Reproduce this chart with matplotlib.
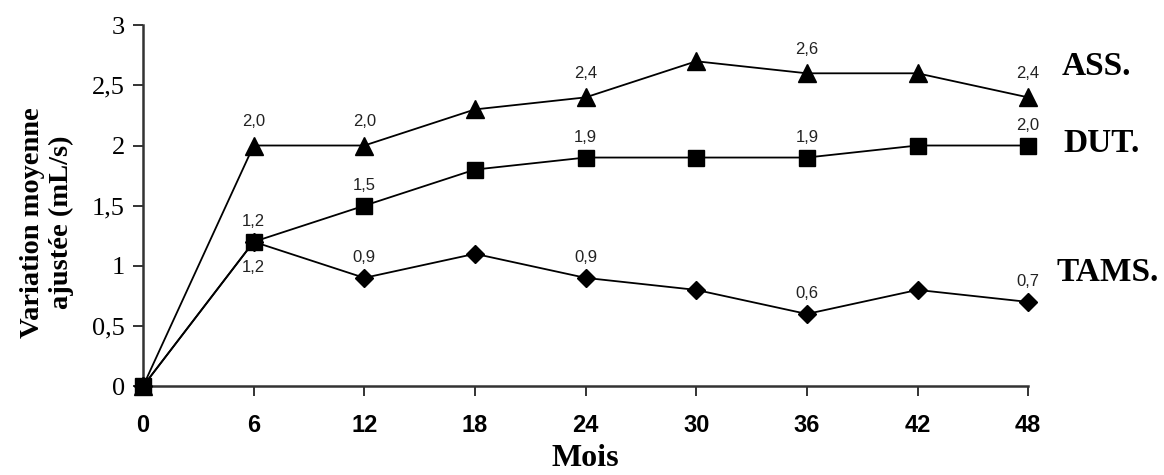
import matplotlib.pyplot as plt

# données
mois = [0, 6, 12, 18, 24, 30, 36, 42, 48]
ass = [0, 2.0, 2.0, 2.3, 2.4, 2.7, 2.6, 2.6, 2.4]
dut = [0, 1.2, 1.5, 1.8, 1.9, 1.9, 1.9, 2.0, 2.0]
tams = [0, 1.2, 0.9, 1.1, 0.9, 0.8, 0.6, 0.8, 0.7]

# mois où la valeur est affichée
etiq_ass = [6, 12, 24, 36, 48]
etiq_dut = [6, 12, 24, 36, 48]
etiq_tams = [12, 24, 36, 48]

yticks = [0, 0.5, 1, 1.5, 2, 2.5, 3]
ytick_labels = ["0", "0,5", "1", "1,5", "2", "2,5", "3"]

serie_noms = ["ASS.", "DUT.", "TAMS."]


def fmt(v):
    return f"{v:.1f}".replace(".", ",")


SANS = ["Liberation Sans", "DejaVu Sans"]
SERIF = ["Liberation Serif", "DejaVu Serif"]

fig = plt.figure(figsize=(11.64, 4.75), dpi=100)
ax = fig.add_axes([0.1229, 0.187, 0.7604, 0.760])

ax.plot(mois, ass, color="black", lw=1.3, marker="^", ms=13, clip_on=False, zorder=3)
ax.plot(mois, tams, color="black", lw=1.3, marker="D", ms=9.5, clip_on=False, zorder=3)
ax.plot(mois, dut, color="black", lw=1.3, marker="s", ms=12, clip_on=False, zorder=4)

ann = dict(textcoords="offset points", ha="center", fontsize=12, family=SANS, color="#222222")
for x, y in zip(mois, ass):
    if x in etiq_ass:
        ax.annotate(fmt(y), (x, y), xytext=(0, 12), va="bottom", **ann)
for x, y in zip(mois, dut):
    if x in etiq_dut:
        ax.annotate(fmt(y), (x, y), xytext=(0, 9), va="bottom", **ann)
for x, y in zip(mois, tams):
    if x in etiq_tams:
        ax.annotate(fmt(y), (x, y), xytext=(0, 9), va="bottom", **ann)
    elif x == 6:
        ax.annotate(fmt(y), (x, y), xytext=(0, -13), va="top", **ann)

# noms des séries à droite (position en coordonnées axe x / données y)
noms_pos = [(1.038, 2.59), (1.040, 1.95), (1.032, 0.87)]
for nom, (xp, yp) in zip(serie_noms, noms_pos):
    ax.text(xp, yp, nom, transform=ax.get_yaxis_transform(), ha="left", va="baseline",
            fontsize=24, fontweight="bold", family=SERIF)

ax.set_xlim(0, 48)
ax.set_ylim(0, 3)
ax.set_xticks(mois)
ax.set_xticklabels([str(m) for m in mois], fontsize=17, fontweight="bold", family=SANS)
ax.set_yticks(yticks)
ax.set_yticklabels(ytick_labels, fontsize=19, family=SERIF)
ax.tick_params(axis="both", direction="out", length=7, width=1.4, color="#333333")
ax.tick_params(axis="x", pad=13)
ax.tick_params(axis="y", pad=6)

for s in ["top", "right"]:
    ax.spines[s].set_visible(False)
for s in ["left", "bottom"]:
    ax.spines[s].set_linewidth(1.8)
    ax.spines[s].set_color("#333333")

ax.text(0.5, -0.2405, "Mois", transform=ax.transAxes, ha="center", va="bottom",
        fontsize=23, fontweight="bold", family=SERIF)
ax.text(-0.1085, 0.454, "Variation moyenne\najustée (mL/s)", transform=ax.transAxes,
        rotation=90, ha="center", va="center", multialignment="center",
        fontsize=20.5, fontweight="bold", family=SERIF, linespacing=1.25)

fig.savefig("out.png", dpi=100)
